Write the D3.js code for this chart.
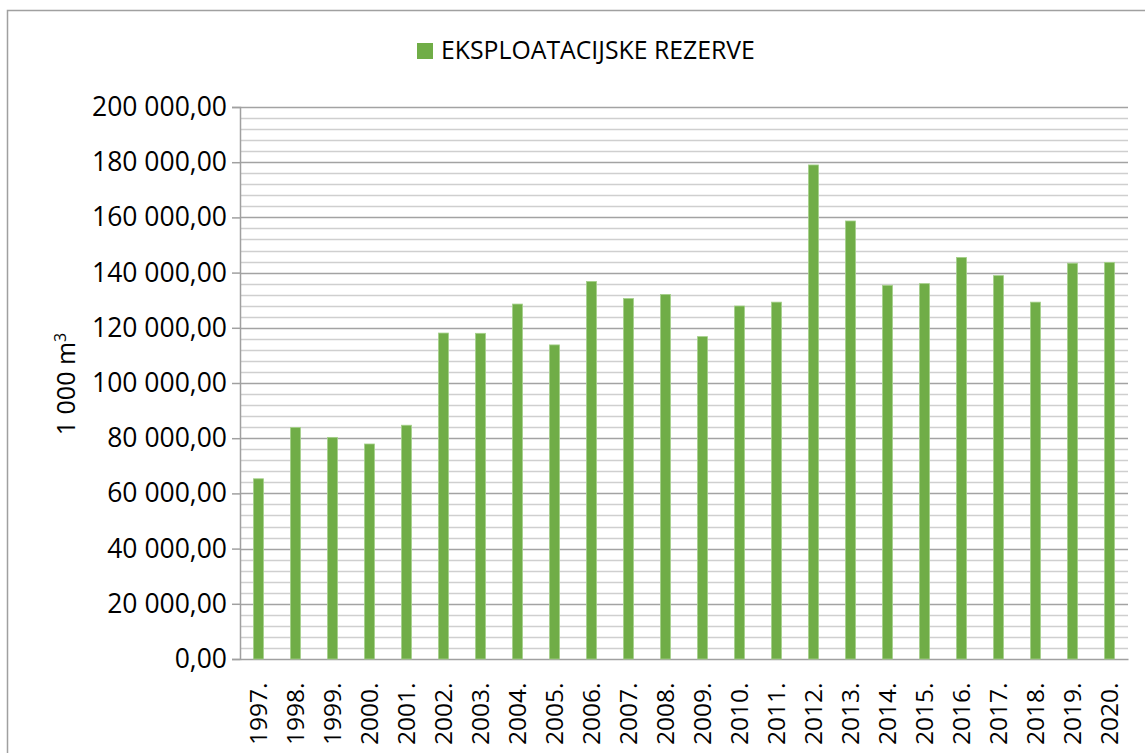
<!DOCTYPE html>
<html>
<head>
<meta charset="utf-8">
<script src="https://cdn.jsdelivr.net/npm/d3@7"></script>
<style>
  body { margin: 0; background: #fff; }
  text { font-family: "Open Sans", sans-serif; fill: #000; }
</style>
</head>
<body>
<div id="chart"></div>
<script>
// data
var years = ["1997.", "1998.", "1999.", "2000.", "2001.", "2002.", "2003.", "2004.",
             "2005.", "2006.", "2007.", "2008.", "2009.", "2010.", "2011.", "2012.",
             "2013.", "2014.", "2015.", "2016.", "2017.", "2018.", "2019.", "2020."];
var reserves = [65300, 83900, 80300, 77900, 84700, 118100, 118000, 128600,
                113800, 136800, 130600, 132100, 116800, 127900, 129300, 179000,
                158700, 135400, 136000, 145500, 138900, 129300, 143400, 143700];
var yTicks = [0, 20000, 40000, 60000, 80000, 100000, 120000, 140000, 160000, 180000, 200000];
var seriesName = "EKSPLOATACIJSKE REZERVE";
var yTitle = "1 000 m";

var W = 1145, H = 753;
var margin = {top: 107, right: 17, bottom: 94, left: 240},
    width = W - margin.left - margin.right,
    height = H - margin.top - margin.bottom;

var svg = d3.select("#chart")
  .append("svg")
    .attr("width", W)
    .attr("height", H);

// outer frame
svg.append("rect")
    .attr("x", 7.5).attr("y", 10.5)
    .attr("width", 1160).attr("height", 770)
    .attr("fill", "none")
    .attr("stroke", "#a0a0a0")
    .attr("stroke-width", 1.5);

var g = svg.append("g")
    .attr("transform", "translate(" + margin.left + "," + margin.top + ")");

var x = d3.scaleBand()
    .domain(years)
    .range([0, width])
    .paddingInner(0.73)
    .paddingOuter(0.365);

var y = d3.scaleLinear()
    .domain([0, 200000])
    .range([height, 0]);

var loc = d3.formatLocale({decimal: ",", thousands: "\u00a0", grouping: [3], currency: ["", ""]});
var fmt = loc.format(",.2f");

// minor gridlines every 4000
var minor = d3.range(4000, 200000, 4000).filter(function(v) { return v % 20000 !== 0; });
g.append("g")
  .selectAll("line")
  .data(minor)
  .enter()
  .append("line")
    .attr("x1", 0).attr("x2", width)
    .attr("y1", function(d) { return Math.round(y(d)) + 0.5; })
    .attr("y2", function(d) { return Math.round(y(d)) + 0.5; })
    .attr("stroke", "#cfcfcf")
    .attr("stroke-width", 1.5);

// major gridlines
g.append("g")
  .selectAll("line")
  .data(yTicks.slice(1))
  .enter()
  .append("line")
    .attr("x1", 0).attr("x2", width)
    .attr("y1", function(d) { return Math.round(y(d)) + 0.5; })
    .attr("y2", function(d) { return Math.round(y(d)) + 0.5; })
    .attr("stroke", "#a3a3a3")
    .attr("stroke-width", 1.5);

// Y axis
var yAxis = g.append("g")
    .call(d3.axisLeft(y).tickValues(yTicks).tickFormat(fmt).tickSize(8).tickPadding(5));
yAxis.select(".domain").attr("stroke", "#a0a0a0").attr("stroke-width", 1.5);
yAxis.selectAll(".tick line").attr("stroke", "#a0a0a0").attr("stroke-width", 1.5);
yAxis.selectAll("text").style("font-size", "26.5px").attr("fill", "#000");

// X axis
var xAxis = g.append("g")
    .attr("transform", "translate(0," + height + ")")
    .call(d3.axisBottom(x).tickSize(0).tickPadding(0));
xAxis.select(".domain").attr("stroke", "#a0a0a0").attr("stroke-width", 1.5);
xAxis.selectAll("text")
    .style("font-size", "24.5px")
    .attr("fill", "#000")
    .attr("text-anchor", "start")
    .attr("dy", "0.35em")
    .attr("x", 0)
    .attr("y", 0)
    .attr("transform", "translate(0,86) rotate(-90)");

// bars
g.append("g")
  .selectAll("rect")
  .data(reserves)
  .enter()
  .append("rect")
    .attr("x", function(d, i) { return x(years[i]); })
    .attr("y", function(d) { return y(d); })
    .attr("width", x.bandwidth())
    .attr("height", function(d) { return height - y(d); })
    .attr("fill", "#70ad47")
    .attr("stroke", "#a5d08a")
    .attr("stroke-width", 0.8);

// legend
svg.append("rect")
    .attr("x", 417).attr("y", 43)
    .attr("width", 16).attr("height", 16)
    .attr("fill", "#70ad47");
svg.append("text")
    .attr("x", 441)
    .attr("y", 59)
    .style("font-size", "24.8px")
    .text(seriesName);

// Y axis label
var yl = svg.append("text")
    .attr("text-anchor", "middle")
    .attr("transform", "translate(75,384) rotate(-90)")
    .style("font-size", "25px")
    .text(yTitle);
yl.append("tspan")
    .attr("dy", "-0.55em")
    .style("font-size", "16px")
    .text("3");
</script>
</body>
</html>
